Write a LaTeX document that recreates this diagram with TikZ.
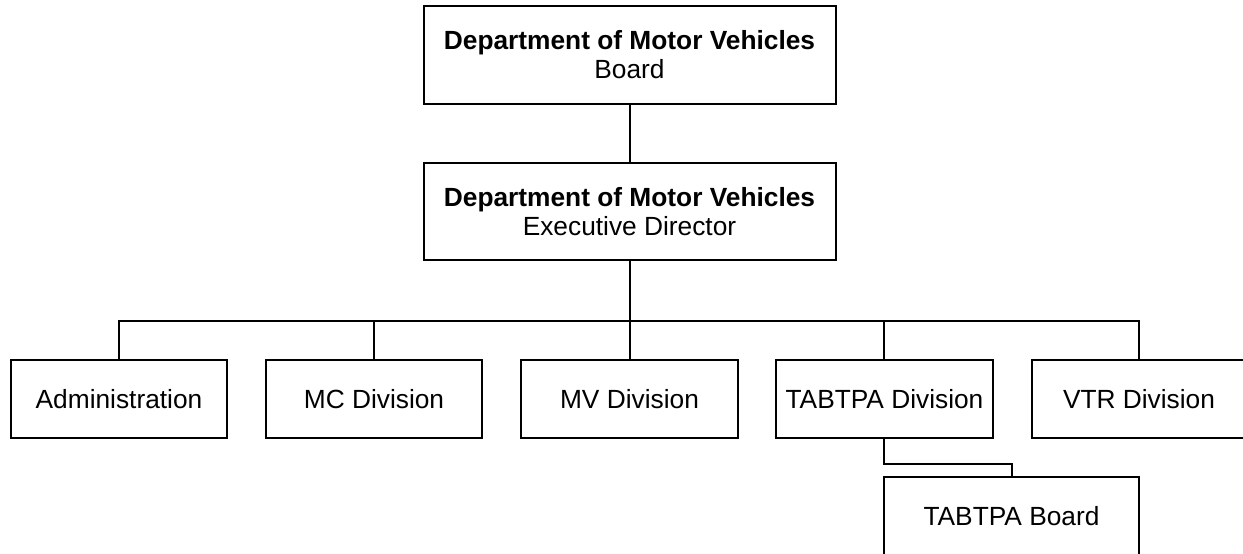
\documentclass[tikz,border=0pt]{standalone}
\usepackage{fontspec}
\setmainfont{Liberation Sans}
\begin{document}
\begin{tikzpicture}[x=1pt,y=-1pt,
  box/.style={draw, line width=2pt, inner sep=0pt, align=center,
    font=\fontsize{26.3}{29}\selectfont},
  link/.style={line width=2pt}]
\useasboundingbox (0,0) rectangle (1243,554);
\node[box, minimum width=412pt, minimum height=98pt] (board) at (629.5,55)
  {\textbf{Department of Motor Vehicles}\\Board};
\node[box, minimum width=412pt, minimum height=97pt] (exec) at (629.5,211.5)
  {\textbf{Department of Motor Vehicles}\\Executive Director};
\node[box, minimum width=216pt, minimum height=78pt] (admin) at (119,399) {Administration};
\node[box, minimum width=216pt, minimum height=78pt] (mc) at (374,399) {MC Division};
\node[box, minimum width=217pt, minimum height=78pt] (mv) at (629.5,399) {MV Division};
\node[box, minimum width=217pt, minimum height=78pt] (tabtpa) at (884.5,399) {TABTPA Division};
\node[box, minimum width=214pt, minimum height=78pt] (vtr) at (1139,399) {VTR Division};
\node[box, minimum width=255pt, minimum height=78pt] (tboard) at (1011.5,516) {TABTPA Board};
\coordinate (bus) at (629.5,321);
\coordinate (tx) at (884,0);
\draw[link] (board.south) -- (exec.north);
\draw[link] (exec.south) -- (bus);
\draw[link] (admin.north) |- (bus) -| (vtr.north);
\draw[link] (mc.north) -- (mc.north |- bus);
\draw[link] (mv.north) -- (mv.north |- bus);
\draw[link] (tabtpa.north -| tx) -- (tx |- bus);
\draw[link] (tabtpa.south -| tx) -- ++(0,25) -| (tboard.north);
\end{tikzpicture}
\end{document}
